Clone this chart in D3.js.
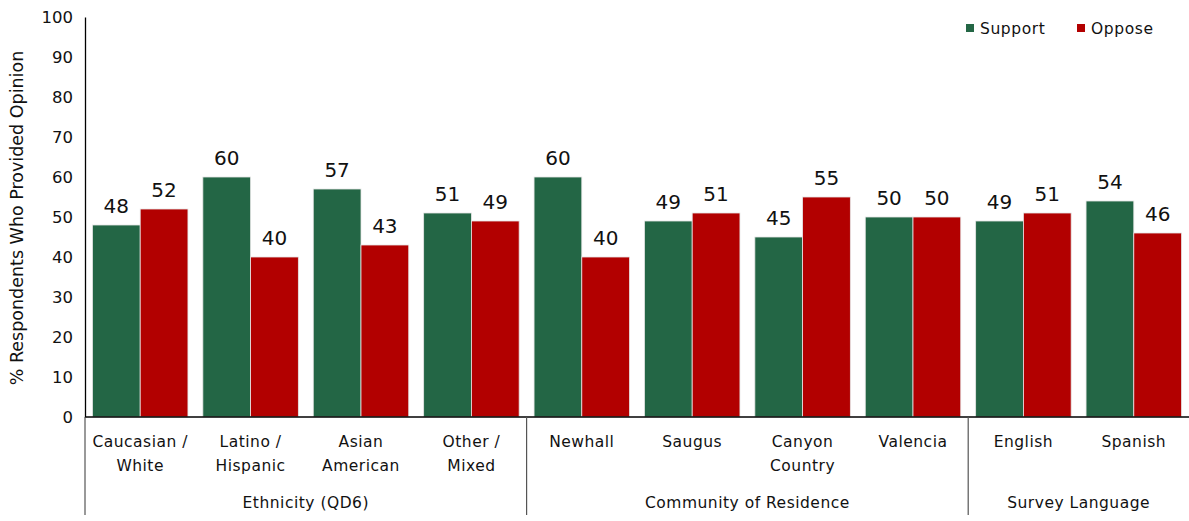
<!DOCTYPE html>
<html>
<head>
<meta charset="utf-8">
<script src="https://cdn.jsdelivr.net/npm/d3@7"></script>
<style>
  body { margin: 0; background: #fff; }
  text { font-family: "DejaVu Sans", "Open Sans", sans-serif; fill: #111; }
</style>
</head>
<body>
<svg id="chart" width="1189" height="521"></svg>
<script>
// Support / oppose by subgroup
const categories = [
  ["Caucasian /", "White"], ["Latino /", "Hispanic"], ["Asian", "American"], ["Other /", "Mixed"],
  ["Newhall"], ["Saugus"], ["Canyon", "Country"], ["Valencia"],
  ["English"], ["Spanish"]
];
const support = [48, 60, 57, 51, 60, 49, 45, 50, 49, 54];
const oppose  = [52, 40, 43, 49, 40, 51, 55, 50, 51, 46];
const groups = [
  { name: "Ethnicity (QD6)", start: 0, end: 4 },
  { name: "Community of Residence", start: 4, end: 8 },
  { name: "Survey Language", start: 8, end: 10 }
];
const seriesNames = ["Support", "Oppose"];
const yTicks = [0, 10, 20, 30, 40, 50, 60, 70, 80, 90, 100];
const colors = ["#236645", "#B20000"];

const svg = d3.select("#chart");
const plotLeft = 85, plotRight = 1189, plotTop = 17, plotBottom = 417;

const x = d3.scaleBand().domain(d3.range(categories.length)).range([plotLeft, plotRight]).paddingInner(0.135).paddingOuter(0.0675);
const xs = d3.scaleBand().domain([0, 1]).range([0, x.bandwidth()]);
const y = d3.scaleLinear().domain([0, 100]).range([plotBottom, plotTop]);

// Y axis
const yAxis = svg.append("g").attr("transform", `translate(${plotLeft},0)`)
  .call(d3.axisLeft(y).tickValues(yTicks).tickSize(0).tickPadding(12));
yAxis.select(".domain").attr("stroke", "#000").attr("stroke-width", 1.3);
yAxis.selectAll("text").style("font-size", "16.5px").style("font-family", "DejaVu Sans, sans-serif").attr("fill", "#111");

svg.append("text")
  .attr("transform", `translate(23,${(plotTop + plotBottom) / 2 + 1}) rotate(-90)`)
  .attr("text-anchor", "middle")
  .style("font-size", "17.5px")
  .text("% Respondents Who Provided Opinion");

// Bars
const data = categories.map((c, i) => ({ i, vals: [support[i], oppose[i]] }));
const cat = svg.append("g").selectAll("g").data(data).join("g")
  .attr("transform", d => `translate(${x(d.i)},0)`);

cat.selectAll("rect").data(d => d.vals.map((v, k) => ({ v, k }))).join("rect")
  .attr("x", d => xs(d.k))
  .attr("y", d => y(d.v))
  .attr("width", xs.bandwidth())
  .attr("height", d => y(0) - y(d.v))
  .attr("fill", d => colors[d.k])
  .attr("stroke", "#e6e6e6")
  .attr("stroke-width", 0.8);

cat.selectAll("text.val").data(d => d.vals.map((v, k) => ({ v, k }))).join("text")
  .attr("class", "val")
  .attr("x", d => xs(d.k) + xs.bandwidth() / 2)
  .attr("y", d => y(d.v) - 12)
  .attr("text-anchor", "middle")
  .style("font-size", "20px")
  .text(d => d.v);

// X baseline
svg.append("line").attr("x1", plotLeft).attr("x2", plotRight).attr("y1", plotBottom).attr("y2", plotBottom)
  .attr("stroke", "#000").attr("stroke-width", 1.3);

// Category labels
const labels = svg.append("g").selectAll("text").data(categories).join("text")
  .attr("x", (d, i) => x(i) + x.bandwidth() / 2)
  .attr("y", 447)
  .attr("text-anchor", "middle")
  .style("font-size", "15.5px")
  .style("letter-spacing", "0.5px");
labels.selectAll("tspan").data(d => d).join("tspan")
  .attr("x", function () { return d3.select(this.parentNode).attr("x"); })
  .attr("dy", (d, j) => j === 0 ? 0 : 24)
  .text(d => d);

// Group separators and names
const step = x.step();
const edge = i => plotLeft + i * step;
groups.forEach(g => {
  svg.append("line").attr("x1", edge(g.start)).attr("x2", edge(g.start))
    .attr("y1", plotBottom).attr("y2", 515).attr("stroke", "#555").attr("stroke-width", 1.2);
  svg.append("text")
    .attr("x", (edge(g.start) + edge(g.end)) / 2)
    .attr("y", 508)
    .attr("text-anchor", "middle")
    .style("font-size", "15.5px")
    .style("letter-spacing", "0.5px")
    .text(g.name);
});

// Legend
const legend = svg.append("g");
const legX = [966, 1077];
seriesNames.forEach((s, k) => {
  legend.append("rect").attr("x", legX[k]).attr("y", 24).attr("width", 8).attr("height", 8).attr("fill", colors[k]);
  legend.append("text").attr("x", legX[k] + 14).attr("y", 34)
    .style("font-size", "15.5px").style("letter-spacing", "0.6px").text(s);
});
</script>
</body>
</html>
